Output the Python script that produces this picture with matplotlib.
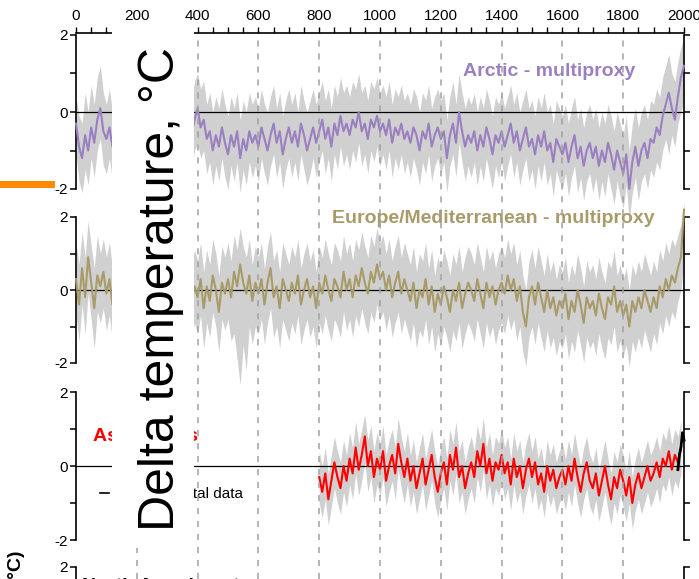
import numpy as np
import matplotlib
matplotlib.use('Agg')
import matplotlib.pyplot as plt
from matplotlib.patches import Rectangle
from matplotlib.lines import Line2D

plt.rcParams['font.family'] = ['Liberation Sans', 'DejaVu Sans']

# Годы для рядов (шаг 10 лет)
years = np.arange(0, 2001, 10)
asia_years = np.arange(800, 2000, 10)

# Arctic - multiproxy
arctic = [
    -0.3, -0.9, -1.2, -0.6, -1.0, -0.4, -0.8, -0.2, 0.1, -0.5,
    -0.7, -0.4, -0.9, -0.5, -0.8, -0.3, -0.6, -1.0, -0.5, -0.7,
    -0.4, -0.8, -0.6, -1.1, -0.5, -0.7, -0.3, -0.9, -0.6, -0.4,
    -0.8, -0.5, -1.0, -0.6, -0.3, -0.7, -0.9, -0.4, -0.6, -0.2,
    0.1, -0.4, -0.2, -0.7, -0.5, -1.0, -0.6, -0.9, -0.4, -0.8,
    -1.1, -0.6, -0.9, -0.5, -1.2, -0.7, -1.0, -0.5, -0.8, -0.6,
    -0.9, -0.4, -0.7, -1.0, -0.6, -0.3, -0.8, -0.5, -1.1, -0.7,
    -0.4, -0.8, -0.5, -0.9, -0.3, -0.6, -1.0, -0.7, -0.4, -0.8,
    -0.5, -0.2, -0.7, -0.4, -0.9, -0.3, -0.6, -0.1, -0.5, -0.3,
    -0.6, -0.2, -0.4, 0.0, -0.5, -0.3, -0.7, -0.2, -0.4, -0.1,
    -0.5, -0.3, -0.6, -0.2, -0.8, -0.4, -0.6, -0.3, -0.7, -0.5,
    -0.8, -0.4, -0.6, -1.0, -0.5, -0.7, -0.3, -0.9, -0.6, -0.4,
    -0.7, -0.5, -1.2, -0.6, -0.3, -0.8, 0.0, -0.5, -0.9, -0.6,
    -0.8, -0.5, -1.0, -0.6, -0.9, -0.4, -0.7, -1.1, -0.6, -0.8,
    -0.5, -0.9, -0.6, -0.3, -0.8, -0.5, -1.0, -0.7, -0.4, -0.9,
    -0.7, -1.1, -0.6, -0.9, -0.5, -1.0, -0.8, -1.3, -0.7, -0.9,
    -1.1, -0.8, -1.3, -0.9, -0.6, -1.2, -0.9, -1.4, -1.0, -0.8,
    -1.2, -0.9, -1.4, -1.0, -1.3, -0.8, -1.1, -1.5, -1.0, -1.3,
    -1.6, -1.1, -2.0, -1.3, -0.9, -1.4, -1.0, -0.8, -1.2, -0.7,
    -0.8, -0.4, -0.6, -0.1, 0.2, 0.5, 0.1, -0.2, 0.4, 0.9,
    1.2]
arctic_hi = [
    0.4, -0.1, -0.3, 0.5, 0.0, 0.7, 0.2, 0.9, 1.2, 0.5,
    0.2, 0.6, 0.0, 0.5, 0.1, 0.7, 0.3, -0.1, 0.5, 0.2,
    0.6, 0.1, 0.4, -0.2, 0.5, 0.2, 0.7, 0.0, 0.3, 0.6,
    0.1, 0.5, -0.1, 0.4, 0.7, 0.2, 0.0, 0.6, 0.3, 0.8,
    1.0, 0.6, 0.8, 0.2, 0.5, 0.0, 0.4, 0.1, 0.6, 0.2,
    -0.1, 0.4, 0.1, 0.5, -0.2, 0.3, 0.0, 0.5, 0.2, 0.4,
    0.1, 0.6, 0.2, 0.0, 0.4, 0.7, 0.1, 0.5, -0.1, 0.3,
    0.6, 0.2, 0.5, 0.0, 0.7, 0.3, 0.0, 0.3, 0.6, 0.2,
    0.5, 0.8, 0.3, 0.6, 0.1, 0.7, 0.4, 0.9, 0.5, 0.7,
    0.4, 0.8, 0.6, 1.0, 0.5, 0.7, 0.3, 0.8, 0.6, 0.9,
    0.5, 0.7, 0.4, 0.8, 0.2, 0.6, 0.4, 0.7, 0.3, 0.5,
    0.2, 0.6, 0.4, 0.0, 0.5, 0.3, 0.7, 0.1, 0.4, 0.6,
    0.3, 0.5, -0.2, 0.4, 0.8, 0.2, 1.0, 0.5, 0.1, 0.4,
    0.2, 0.5, 0.0, 0.4, 0.1, 0.6, 0.3, -0.1, 0.4, 0.2,
    0.5, 0.1, 0.4, 0.7, 0.2, 0.5, 0.0, 0.3, 0.6, 0.1,
    0.3, -0.1, 0.4, 0.1, 0.5, 0.0, 0.2, -0.3, 0.3, 0.1,
    -0.1, 0.2, -0.3, 0.1, 0.4, -0.2, 0.1, -0.4, 0.0, 0.2,
    -0.2, 0.1, -0.4, 0.0, -0.3, 0.2, -0.1, -0.5, 0.0, -0.3,
    -0.6, -0.1, -1.0, -0.3, 0.1, -0.4, 0.0, 0.2, -0.2, 0.3,
    0.2, 0.6, 0.4, 0.9, 1.2, 1.5, 1.0, 0.8, 1.3, 1.7,
    1.9]
arctic_lo = [
    -1.1, -1.8, -2.1, -1.5, -1.9, -1.2, -1.7, -1.0, -0.7, -1.4,
    -1.6, -1.2, -1.8, -1.3, -1.7, -1.1, -1.5, -1.9, -1.3, -1.6,
    -1.2, -1.7, -1.4, -2.0, -1.3, -1.6, -1.1, -1.8, -1.5, -1.2,
    -1.7, -1.3, -1.9, -1.4, -1.1, -1.6, -1.8, -1.2, -1.5, -1.0,
    -0.8, -1.2, -1.0, -1.6, -1.3, -1.9, -1.4, -1.8, -1.2, -1.7,
    -2.0, -1.4, -1.8, -1.3, -2.1, -1.5, -1.9, -1.3, -1.7, -1.4,
    -1.8, -1.2, -1.6, -1.9, -1.4, -1.1, -1.7, -1.3, -2.0, -1.5,
    -1.2, -1.7, -1.3, -1.8, -1.1, -1.5, -1.9, -1.6, -1.2, -1.7,
    -1.3, -1.0, -1.6, -1.2, -1.8, -1.1, -1.5, -0.9, -1.4, -1.1,
    -1.5, -1.0, -1.3, -0.8, -1.4, -1.1, -1.6, -1.0, -1.3, -0.9,
    -1.4, -1.1, -1.5, -1.0, -1.7, -1.2, -1.5, -1.1, -1.6, -1.3,
    -1.7, -1.2, -1.5, -1.9, -1.3, -1.6, -1.1, -1.8, -1.4, -1.2,
    -1.6, -1.3, -2.1, -1.4, -1.1, -1.7, -0.8, -1.3, -1.8, -1.4,
    -1.7, -1.3, -1.9, -1.4, -1.8, -1.2, -1.6, -2.0, -1.4, -1.7,
    -1.3, -1.8, -1.4, -1.1, -1.7, -1.3, -1.9, -1.5, -1.2, -1.8,
    -1.5, -2.0, -1.4, -1.8, -1.3, -1.9, -1.6, -2.2, -1.5, -1.8,
    -2.0, -1.6, -2.2, -1.7, -1.4, -2.1, -1.7, -2.3, -1.8, -1.6,
    -2.1, -1.7, -2.3, -1.8, -2.2, -1.6, -2.0, -2.4, -1.8, -2.2,
    -2.5, -1.9, -2.8, -2.1, -1.7, -2.3, -1.8, -1.6, -2.0, -1.5,
    -1.7, -1.3, -1.5, -1.0, -0.7, -1.1, -0.6, -0.9, -0.3, 0.0,
    0.3]

# Europe/Mediterranean - multiproxy
europe = [
    0.3, -0.4, 0.6, -0.2, 0.9, 0.2, -0.5, 0.4, 0.1, 0.5,
    -0.1, 0.3, -0.4, 0.2, 0.6, -0.2, 0.1, 0.4, -0.3, 0.2,
    0.0, -0.3, 0.3, -0.1, 0.4, -0.4, 0.2, 0.0, -0.2, 0.3,
    -0.1, 0.2, -0.4, 0.1, 0.4, -0.2, 0.3, 0.0, -0.3, 0.1,
    -0.2, 0.3, -0.5, 0.1, -0.3, 0.4, 0.0, -0.6, 0.2, -0.1,
    0.3, -0.2, 0.5, 0.1, 0.7, 0.2, -0.1, 0.4, -0.3, 0.2,
    -0.1, 0.3, -0.4, 0.2, 0.6, -0.2, 0.1, -0.5, 0.3, 0.0,
    -0.3, 0.2, -0.1, 0.4, -0.4, 0.0, 0.3, -0.2, 0.1, -0.5,
    0.2, -0.1, 0.4, 0.0, -0.3, 0.3, 0.1, -0.2, 0.5, 0.0,
    0.3, -0.2, 0.4, 0.1, 0.6, 0.2, -0.1, 0.5, 0.2, 0.7,
    0.3, 0.5, 0.0, 0.4, -0.2, 0.2, 0.5, -0.1, 0.3, 0.0,
    -0.3, 0.2, -0.5, 0.0, -0.2, 0.3, -0.4, 0.1, -0.6, -0.1,
    -0.4, 0.1, -0.2, -0.6, 0.0, -0.3, 0.2, -0.5, -0.1, 0.2,
    0.0, -0.3, 0.3, -0.1, -0.5, 0.2, -0.2, 0.1, -0.4, 0.0,
    0.2, -0.1, 0.4, 0.0, 0.3, -0.3, 0.1, -0.6, -1.0, -0.2,
    0.1, -0.4, 0.2, -0.2, -0.6, 0.0, -0.5, -0.2, -0.7, -0.3,
    -0.5, -0.1, -0.8, -0.3, -0.6, 0.0, -0.4, -0.9, -0.2, -0.5,
    -0.3, -0.7, -0.1, -0.5, -0.8, -0.2, -0.4, 0.1, -0.6, -0.3,
    -0.7, -0.4, -1.0, -0.3, -0.6, -0.2, -0.5, 0.0, -0.3, -0.6,
    -0.2, -0.5, 0.1, -0.2, 0.3, 0.0, 0.4, 0.2, 0.6, 0.9,
    2.2]
europe_hi = [
    1.3, 0.7, 1.6, 0.9, 1.9, 1.2, 0.6, 1.5, 1.0, 1.4,
    0.9, 1.3, 0.6, 1.2, 1.6, 0.8, 1.1, 1.4, 0.7, 1.2,
    1.0, 0.7, 1.3, 0.9, 1.4, 0.6, 1.2, 1.0, 0.8, 1.3,
    0.9, 1.2, 0.6, 1.1, 1.4, 0.8, 1.3, 1.0, 0.7, 1.1,
    0.8, 1.3, 0.5, 1.1, 0.7, 1.4, 1.0, 0.4, 1.2, 0.9,
    1.3, 0.8, 1.5, 1.1, 1.7, 1.2, 0.9, 1.4, 0.7, 1.2,
    0.9, 1.3, 0.6, 1.2, 1.6, 0.8, 1.1, 0.5, 1.3, 1.0,
    0.7, 1.2, 0.9, 1.4, 0.6, 1.0, 1.3, 0.8, 1.1, 0.5,
    1.2, 0.9, 1.4, 1.0, 0.7, 1.3, 1.1, 0.8, 1.5, 1.0,
    1.3, 0.8, 1.4, 1.1, 1.6, 1.2, 0.9, 1.5, 1.2, 1.7,
    1.3, 1.5, 1.0, 1.4, 0.8, 1.2, 1.5, 0.9, 1.3, 1.0,
    0.7, 1.2, 0.5, 1.0, 0.8, 1.3, 0.6, 1.1, 0.4, 0.9,
    0.6, 1.1, 0.8, 0.4, 1.0, 0.7, 1.2, 0.5, 0.9, 1.2,
    1.0, 0.7, 1.3, 0.9, 0.5, 1.2, 0.8, 1.1, 0.6, 1.0,
    1.2, 0.9, 1.4, 1.0, 1.3, 0.7, 1.1, 0.4, 0.0, 0.8,
    1.1, 0.6, 1.2, 0.8, 0.4, 1.0, 0.5, 0.8, 0.3, 0.7,
    0.5, 0.9, 0.2, 0.7, 0.4, 1.0, 0.6, 0.1, 0.8, 0.5,
    0.7, 0.3, 0.9, 0.5, 0.2, 0.8, 0.6, 1.1, 0.4, 0.7,
    0.3, 0.6, 0.0, 0.7, 0.4, 0.8, 0.5, 1.0, 0.7, 0.4,
    0.8, 0.5, 1.1, 0.8, 1.3, 1.0, 1.4, 1.2, 1.5, 1.8,
    2.4]
europe_lo = [
    -0.7, -1.4, -0.4, -1.2, -0.1, -0.8, -1.6, -0.6, -0.9, -0.5,
    -1.1, -0.7, -1.4, -0.8, -0.4, -1.2, -0.9, -0.6, -1.3, -0.8,
    -1.0, -1.3, -0.7, -1.1, -0.6, -1.4, -0.8, -1.0, -1.2, -0.7,
    -1.1, -0.8, -1.4, -0.9, -0.6, -1.2, -0.7, -1.0, -1.3, -0.9,
    -1.2, -0.7, -1.6, -0.9, -1.3, -0.6, -1.0, -1.7, -0.8, -1.1,
    -0.8, -1.4, -1.2, -1.9, -2.6, -1.5, -2.2, -1.0, -1.5, -1.0,
    -1.2, -0.8, -1.5, -0.9, -0.5, -1.3, -1.0, -1.6, -0.8, -1.1,
    -1.4, -0.9, -1.2, -0.7, -1.5, -1.1, -0.8, -1.3, -1.0, -1.6,
    -0.9, -1.2, -0.7, -1.1, -1.4, -0.8, -1.0, -1.3, -0.6, -1.1,
    -0.8, -1.3, -0.7, -1.0, -0.5, -0.9, -1.2, -0.6, -0.9, -0.4,
    -0.8, -0.6, -1.1, -0.7, -1.3, -0.9, -0.6, -1.2, -0.8, -1.1,
    -1.4, -0.9, -1.6, -1.1, -1.3, -0.8, -1.5, -1.0, -1.7, -1.2,
    -1.5, -1.0, -1.3, -1.7, -1.1, -1.4, -0.9, -1.6, -1.2, -0.9,
    -1.1, -1.4, -0.8, -1.2, -1.6, -0.9, -1.3, -1.0, -1.5, -1.1,
    -0.9, -1.2, -0.7, -1.1, -0.8, -1.4, -1.0, -1.7, -2.1, -1.3,
    -1.0, -1.5, -0.9, -1.3, -1.7, -1.1, -1.6, -1.3, -1.8, -1.4,
    -1.6, -1.2, -1.9, -1.4, -1.7, -1.1, -1.5, -2.0, -1.3, -1.6,
    -1.4, -1.8, -1.2, -1.6, -1.9, -1.3, -1.5, -1.0, -1.7, -1.4,
    -1.8, -1.5, -2.1, -1.4, -1.7, -1.3, -1.6, -1.1, -1.4, -1.7,
    -1.2, -1.5, -0.9, -1.2, -0.7, -1.0, -0.6, -0.8, -0.3, 0.0,
    0.8]

# Asia - trees (800-1990)
asia = [
    -0.3, -0.7, -0.2, -0.9, -0.4, 0.1, -0.3, -0.6, 0.0, -0.4,
    0.2, -0.2, 0.5, -0.1, 0.3, 0.8, 0.0, 0.4, -0.3, 0.2,
    -0.1, 0.4, -0.4, 0.0, 0.3, -0.2, 0.6, 0.1, -0.3, 0.2,
    -0.4, 0.0, -0.6, -0.2, 0.2, -0.5, -0.1, 0.3, -0.3, -0.7,
    -0.2, 0.1, -0.5, 0.3, -0.1, 0.5, -0.3, 0.0, -0.6, -0.2,
    0.1, -0.3, 0.4, 0.0, 0.6, -0.2, 0.2, -0.4, 0.1, -0.1,
    0.3, -0.2, 0.1, -0.5, 0.2, -0.3, 0.0, -0.6, -0.1, 0.2,
    -0.3, 0.1, -0.5, -0.2, -0.7, 0.0, -0.4, -0.1, -0.6, -0.3,
    -0.1, -0.5, 0.0, -0.4, 0.2, -0.3, -0.7, -0.2, 0.1, -0.4,
    -0.6, -0.2, -0.8, -0.4, 0.0, -0.5, -0.9, -0.3, -0.6, -0.1,
    -0.4, -0.8, -0.3, -1.0, -0.5, -0.2, -0.6, -0.3, 0.0, -0.4,
    -0.2, 0.1, -0.3, 0.2, 0.0, 0.4, -0.1, 0.3, 0.1, 0.5]
asia_hi = [
    0.4, 0.0, 0.5, -0.2, 0.3, 0.8, 0.4, 0.1, 0.7, 0.3,
    0.9, 0.5, 1.2, 0.6, 1.0, 1.4, 0.7, 1.1, 0.4, 0.9,
    0.6, 1.1, 0.3, 0.7, 1.0, 0.5, 1.3, 0.8, 0.4, 0.9,
    0.3, 0.7, 0.1, 0.5, 0.9, 0.2, 0.6, 1.0, 0.4, 0.0,
    0.5, 0.8, 0.2, 1.0, 0.6, 1.2, 0.4, 0.7, 0.1, 0.5,
    0.8, 0.4, 1.1, 0.7, 1.3, 0.5, 0.9, 0.3, 0.8, 0.6,
    1.0, 0.5, 0.8, 0.2, 0.9, 0.4, 0.7, 0.1, 0.6, 0.9,
    0.4, 0.8, 0.2, 0.5, 0.0, 0.7, 0.3, 0.6, 0.1, 0.4,
    0.6, 0.2, 0.7, 0.3, 0.9, 0.4, 0.0, 0.5, 0.8, 0.3,
    0.1, 0.5, -0.1, 0.3, 0.7, 0.2, -0.2, 0.4, 0.1, 0.6,
    0.3, -0.1, 0.4, -0.3, 0.2, 0.5, 0.1, 0.4, 0.7, 0.3,
    0.5, 0.8, 0.4, 0.9, 0.7, 1.1, 0.6, 1.0, 0.8, 1.2]
asia_lo = [
    -1.0, -1.4, -0.9, -1.6, -1.1, -0.6, -1.0, -1.3, -0.7, -1.1,
    -0.5, -0.9, -0.2, -0.8, -0.4, 0.1, -0.7, -0.3, -1.0, -0.5,
    -0.8, -0.3, -1.1, -0.7, -0.4, -0.9, -0.1, -0.6, -1.0, -0.5,
    -1.1, -0.7, -1.3, -0.9, -0.5, -1.2, -0.8, -0.4, -1.0, -1.4,
    -0.9, -0.6, -1.2, -0.4, -0.8, -0.2, -1.0, -0.7, -1.3, -0.9,
    -0.6, -1.0, -0.3, -0.7, -0.1, -0.9, -0.5, -1.1, -0.6, -0.8,
    -0.4, -0.9, -0.6, -1.2, -0.5, -1.0, -0.7, -1.3, -0.8, -0.5,
    -1.0, -0.6, -1.2, -0.9, -1.4, -0.7, -1.1, -0.8, -1.3, -1.0,
    -0.8, -1.2, -0.7, -1.1, -0.5, -1.0, -1.4, -0.9, -0.6, -1.1,
    -1.3, -0.9, -1.5, -1.1, -0.7, -1.2, -1.6, -1.0, -1.3, -0.8,
    -1.1, -1.5, -1.0, -1.7, -1.2, -0.9, -1.3, -1.0, -0.7, -1.1,
    -0.9, -0.6, -1.0, -0.5, -0.7, -0.3, -0.8, -0.4, -0.6, -0.2]

# Инструментальные данные
instr_years = [1980, 1985, 1990, 1995, 2000]
instr = [-0.1, 0.3, 0.5, 0.9, 0.7]

year_ticks = [0, 200, 400, 600, 800, 1000, 1200, 1400, 1600, 1800, 2000]
temp_ticks = [-2, -1, 0, 1, 2]
temp_labels = ['-2', '', '0', '', '2']

W, H = 699, 579
GRAY = '#d0d0d0'


# Переводим пиксели картинки в доли фигуры
def px_axes(fig, left, top, right, bottom, z):
    return fig.add_axes([left / W, 1 - bottom / H, (right - left) / W, (bottom - top) / H], zorder=z)


def make_panel(fig, top, bottom):
    ax = px_axes(fig, 76, top, 684, bottom, 1)
    ax.set_xlim(0, 2000)
    ax.set_ylim(-2, 2)
    ax.patch.set_visible(False)
    for s in ['top', 'bottom']:
        ax.spines[s].set_visible(False)
    for s in ['left', 'right']:
        ax.spines[s].set_linewidth(1.2)
    ax.set_xticks([])
    ax.set_yticks(temp_ticks)
    ax.set_yticklabels(temp_labels)
    ax.tick_params(axis='y', direction='out', length=4, width=1.1, right=True,
                   labelright=False, labelsize=11, pad=2)
    return ax


def draw_series(ax, x, lo, hi, y, color):
    ax.fill_between(x, lo, hi, color=GRAY, lw=0, clip_on=False, zorder=1)
    ax.axhline(0, color='black', lw=0.9, zorder=2)
    ax.plot(x, y, color=color, lw=1.5, clip_on=False, zorder=3)


fig = plt.figure(figsize=(W / 100, H / 100), dpi=100)

# Общая ось лет сверху и пунктирные вертикали
bg = px_axes(fig, 76, 33, 684, 579, 2)
bg.patch.set_visible(False)
bg.set_xlim(0, 2000)
bg.set_ylim(0, 1)
for s in ['left', 'right', 'bottom']:
    bg.spines[s].set_visible(False)
bg.spines['top'].set_linewidth(1.2)
bg.xaxis.tick_top()
bg.set_xticks(year_ticks)
bg.set_xticks(np.arange(0, 2001, 50), minor=True)
bg.tick_params(axis='x', which='both', direction='out', length=4, width=1, labelsize=11, pad=3)
bg.set_yticks([])
for yr in year_ticks[1:-1]:
    bg.axvline(yr, color='#a0a0a0', lw=1.1, ls=(0, (4, 4.5)), ymax=0.995)

ax_arc = make_panel(fig, 35, 189)
draw_series(ax_arc, years, arctic_lo, arctic_hi, arctic, '#9b80c1')
ax_arc.text(1839, 1.06, 'Arctic - multiproxy', color='#9b80c1', fontsize=14,
            fontweight='bold', ha='right', va='center')

ax_eur = make_panel(fig, 217, 363)
draw_series(ax_eur, years, europe_lo, europe_hi, europe, '#a89b69')
ax_eur.text(1905, 1.95, 'Europe/Mediterranean - multiproxy', color='#a89b69', fontsize=14,
            fontweight='bold', ha='right', va='center')

ax_asia = make_panel(fig, 392, 540)
draw_series(ax_asia, asia_years, asia_lo, asia_hi, asia, '#ff0000')
ax_asia.plot(instr_years, instr, color='black', lw=2, clip_on=False, zorder=4)
ax_asia.text(56, 0.81, 'Asia - trees', color='#ff0000', fontsize=14,
             fontweight='bold', ha='left', va='center')
ax_asia.legend(handles=[Line2D([], [], color='black', lw=1.2)], labels=['Instrumental data'],
               loc='center left', bbox_to_anchor=(24 / 608, (2 - 0.76) / 4), frameon=False,
               handlelength=0.6, handletextpad=1.05, borderpad=0, borderaxespad=0, fontsize=11)

ax_na = make_panel(fig, 567, 715)
ax_na.text(20, 1.7, 'North America - trees', color='black', fontsize=14,
           fontweight='bold', ha='left', va='top')

# Подпись оси слева (видно только конец)
fig.text(17 / W, 1 - 550 / H, 'Temperature anomaly (°C)', rotation=90, fontsize=14,
         fontweight='bold', ha='center', va='top')

# Белая вставка с большой подписью
fig.add_artist(Rectangle((112 / W, 1 - 548 / H), (194 - 112) / W, (548 - 27) / H,
                         transform=fig.transFigure, facecolor='white', edgecolor='none', zorder=10))
fig.text(161 / W, 1 - 289 / H, 'Delta temperature, °C', rotation=90, fontsize=36,
         ha='center', va='center', zorder=11)

# Оранжевая полоска слева
fig.add_artist(Rectangle((0, 1 - 188 / H), 55 / W, 7 / H, transform=fig.transFigure,
                         facecolor='#ff8a00', edgecolor='none', zorder=10))

fig.savefig('out.png', dpi=100)
